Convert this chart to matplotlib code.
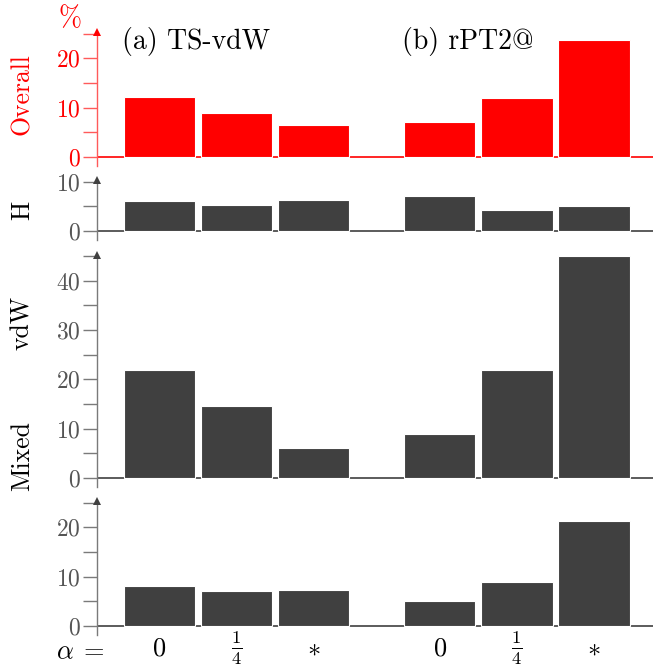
import matplotlib
matplotlib.use("Agg")
import matplotlib.pyplot as plt
from matplotlib.ticker import MultipleLocator
import matplotlib.transforms as mtransforms

plt.rcParams['font.family'] = 'serif'
plt.rcParams['font.serif'] = ['cmr10']
plt.rcParams['mathtext.fontset'] = 'cm'
plt.rcParams['axes.formatter.use_mathtext'] = True

# ---------- data ----------
alpha_labels = [r'$0$', r'$\frac{1}{4}$', r'$*$']
groups = ['(a) TS-vdW', '(b) rPT2@']
panels = ['Overall', 'H', 'vdW', 'Mixed']

overall_ts = [12.2, 9.0, 6.5]
overall_rpt2 = [7.1, 12.0, 23.8]
h_ts = [6.0, 5.2, 6.3]
h_rpt2 = [7.2, 4.2, 5.0]
vdw_ts = [22.0, 14.6, 6.1]
vdw_rpt2 = [8.9, 22.0, 45.0]
mixed_ts = [8.2, 7.0, 7.4]
mixed_rpt2 = [5.0, 9.0, 21.2]

W, H = 653, 668
DPI = 100
fig = plt.figure(figsize=(W / DPI, H / DPI), dpi=DPI)

RED = '#ff0000'
DARK = '#404040'
GRAY = '#7a7a7a'

x_a = [0, 1, 2]
x_b = [3.64, 4.64, 5.64]
xlim = (-0.81, 6.41)
ylow = -1.8

# (values_ts, values_rpt2, zero pixel row, axis top value, ylim top, major step, color)
specs = [
    (overall_ts, overall_rpt2, 157, 25, 26.5, 10, RED),
    (h_ts, h_rpt2, 231, 10, 12, 10, DARK),
    (vdw_ts, vdw_rpt2, 478, 45, 46.5, 10, DARK),
    (mixed_ts, mixed_rpt2, 626, 25, 26.5, 10, DARK),
]
ppu = 4.93  # pixels per unit, same in every panel
left_px, right_px = 97, 653

axes = []
for ts, rp, zero_px, top, ytop, step, col in specs:
    bot_px = zero_px - ylow * ppu
    top_px = zero_px - ytop * ppu
    ax = fig.add_axes([left_px / W, 1 - bot_px / H,
                       (right_px - left_px) / W, (bot_px - top_px) / H])
    ax.set_xlim(*xlim)
    ax.set_ylim(ylow, ytop)
    ax.patch.set_alpha(0)
    for s in ['top', 'right', 'bottom']:
        ax.spines[s].set_visible(False)
    spine_col = '#ff5a5a' if col == RED else GRAY
    tick_col = RED if col == RED else '#555555'
    ax.spines['left'].set_color(spine_col)
    ax.spines['left'].set_linewidth(1.0)
    ax.spines['left'].set_bounds(ylow, top)

    ax.bar(x_a, ts, width=0.93, color=col, edgecolor='white', linewidth=0.8, zorder=2)
    ax.bar(x_b, rp, width=0.93, color=col, edgecolor='white', linewidth=0.8, zorder=2)
    ax.axhline(0, color=col, lw=1.2, zorder=1)

    ax.yaxis.set_major_locator(MultipleLocator(step))
    ax.yaxis.set_minor_locator(MultipleLocator(step / 2))
    ax.set_yticks([t for t in range(0, int(top) + 1, step)])
    ax.tick_params(axis='y', which='both', direction='out', length=10,
                   width=1.0, color=spine_col, labelcolor=tick_col,
                   labelsize=17, pad=2)
    # arrow head on top of the y axis
    trans = mtransforms.blended_transform_factory(ax.transAxes, ax.transData)
    ax.plot([0], [top + 0.3], marker='^', markersize=6, color=RED if col == RED else DARK,
            transform=trans, clip_on=False, zorder=5, markeredgewidth=0)
    ax.set_xticks([])
    axes.append(ax)

# x tick labels on the last panel
last = axes[-1]
last.set_xticks(x_a + x_b)
last.set_xticklabels(alpha_labels + alpha_labels)
last.tick_params(axis='x', length=0, labelsize=19, pad=10, labelcolor='black')
for lab in last.get_xticklabels():
    lab.set_va('center')
last.text(-1.02, 1 - 652 / H, r'$\alpha\;=$', fontsize=19, ha='center', va='center',
          transform=mtransforms.blended_transform_factory(last.transData, fig.transFigure),
          clip_on=False)

# group titles in the top panel
fig.text(122 / W, 1 - 41 / H, groups[0], fontsize=20, ha='left', va='center')
fig.text(402 / W, 1 - 41 / H, groups[1], fontsize=20, ha='left', va='center')
fig.text(70 / W, 1 - 19 / H, '%', fontsize=20, color=RED, ha='center', va='center')

# panel labels on the left
fig.text(22 / W, 1 - 94 / H, panels[0], rotation=90, fontsize=18.5, color=RED,
         ha='center', va='center')
fig.text(22 / W, 1 - 210 / H, panels[1], rotation=90, fontsize=18.5, ha='center', va='center')
fig.text(22 / W, 1 - 323 / H, panels[2], rotation=90, fontsize=18.5, ha='center', va='center')
fig.text(22 / W, 1 - 456 / H, panels[3], rotation=90, fontsize=18.5, ha='center', va='center')

fig.savefig('out.png', dpi=DPI)
